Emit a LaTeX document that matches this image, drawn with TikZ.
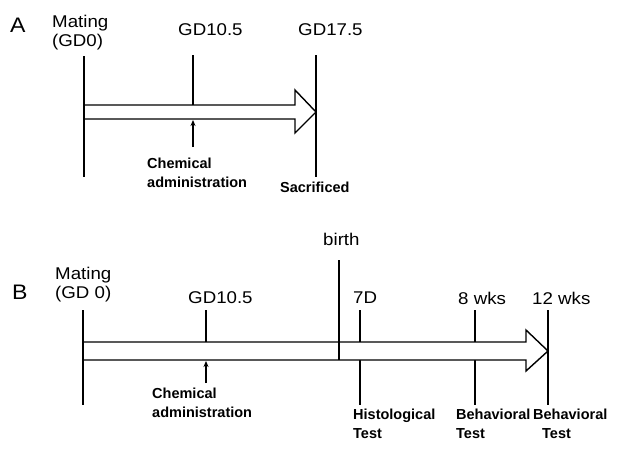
\documentclass[tikz,border=0pt]{standalone}
\usepackage{fontspec}
\setmainfont{Liberation Sans}
\newfontfamily\widefont[FakeStretch=1.1]{Liberation Sans}
\usepackage{tikz}
\usetikzlibrary{arrows.meta}
\tikzset{
  daylabel/.style={font=\widefont\fontsize{17}{19}\selectfont,align=left,inner sep=0pt,anchor=north west},
  note/.style={font=\bfseries\fontsize{14.5}{18.5}\selectfont,align=left,inner sep=0pt,anchor=north west},
  panellabel/.style={font=\widefont\fontsize{21}{23}\selectfont,inner sep=0pt,anchor=north west},
  mark line/.style={line width=1.4pt},
  timearrow/.style={line width=1.4pt,fill=white,line join=miter}
}
\begin{document}
\begin{tikzpicture}[x=1pt,y=-1pt,>={Stealth[length=6pt,width=5pt]}]
\useasboundingbox (0,0) rectangle (624,448);
% panel A: gestation only
\node[panellabel] (panA) at (10,18) {A};
\node[daylabel] (matA) at (52,15) {Mating\\(GD0)};
\node[daylabel] (gdA) at (178,23) {GD10.5};
\node[daylabel] (sacA) at (298,23) {GD17.5};
\node[note] (chemA) at (147,158) {Chemical\\administration};
\node[note] (endA) at (280,182) {Sacrificed};
\coordinate (matAtop) at (84,56); \coordinate (matAbot) at (84,177);
\coordinate (gdAtop) at (193,55); \coordinate (gdAbot) at (193,105);
\coordinate (sacAtop) at (316,55); \coordinate (sacAbot) at (316,177);
\coordinate (chemAtail) at (193,147); \coordinate (chemAhead) at (193,120);
\draw[mark line] (matAtop) -- (matAbot);
\draw[mark line] (gdAtop) -- (gdAbot);
\draw[mark line] (sacAtop) -- (sacAbot);
\draw[timearrow] (84,105) -- (295,105) -- (295,90) -- (316,112) -- (295,133) -- (295,119) -- (84,119) -- cycle;
\draw[mark line] (matAtop) -- (matAbot);
\draw[mark line,->] (chemAtail) -- (chemAhead);
% panel B: gestation and after birth
\node[panellabel] (panB) at (12,285) {B};
\node[daylabel] (matB) at (55,267) {Mating\\(GD 0)};
\node[daylabel] (gdB) at (188,291) {GD10.5};
\node[daylabel] (birthB) at (323,233) {birth};
\node[daylabel] (dayB) at (353,292) {7D};
\node[daylabel] (eightB) at (458,292) {8 wks};
\node[daylabel] (twelveB) at (532,292) {12 wks};
\node[note] (chemB) at (152,388) {Chemical\\administration};
\node[note] (histB) at (353,409) {Histological\\Test};
\node[note] (behB) at (456,409) {Behavioral\\Test};
\node[note] (behlateB) at (533,409) {Behavioral\\\hspace*{9pt}Test};
\coordinate (matBtop) at (83,310); \coordinate (matBbot) at (83,405);
\coordinate (gdBtop) at (206,310); \coordinate (gdBbot) at (206,342);
\coordinate (birthBtop) at (339,260); \coordinate (birthBbot) at (339,360);
\coordinate (dayBtop) at (360,310); \coordinate (dayBbot) at (360,405);
\coordinate (eightBtop) at (475,310); \coordinate (eightBbot) at (475,405);
\coordinate (twelveBtop) at (548,310); \coordinate (twelveBbot) at (548,405);
\coordinate (chemBtail) at (206,383); \coordinate (chemBhead) at (206,361);
\foreach \m in {matB,gdB,dayB,eightB,twelveB}
  \draw[mark line] (\m top) -- (\m bot);
\draw[timearrow] (83,342) -- (526,342) -- (526,330) -- (548,351) -- (526,371) -- (526,360) -- (83,360) -- cycle;
\draw[mark line] (birthBtop) -- (birthBbot);
\draw[mark line] (matBtop) -- (matBbot);
\draw[mark line] (twelveBtop) -- (twelveBbot);
\draw[mark line,->] (chemBtail) -- (chemBhead);
\end{tikzpicture}
\end{document}
